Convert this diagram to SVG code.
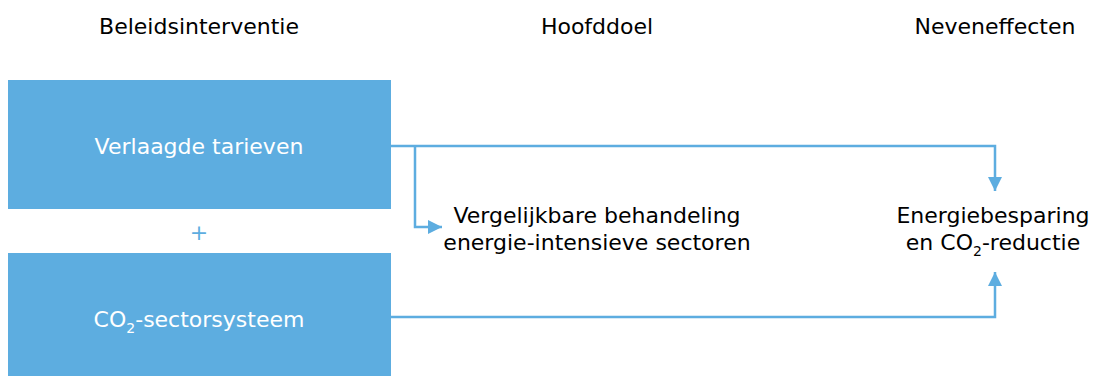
<svg xmlns="http://www.w3.org/2000/svg" width="1095" height="376" viewBox="0 0 1095 376">
<style>
text{font-family:"DejaVu Sans",Verdana,sans-serif;font-size:22px;text-anchor:middle;fill:#000}
.box{fill:#5dade0}
.wt{fill:#fff}
.ln{fill:none;stroke:#5dade0;stroke-width:2.5}
</style>
<defs>
<marker id="ah" viewBox="0 0 14 14" refX="14" refY="7" markerWidth="14" markerHeight="14" markerUnits="userSpaceOnUse" orient="auto">
<path d="M0,0 L14,7 L0,14 Z" fill="#5dade0"/>
</marker>
</defs>
<rect width="1095" height="376" fill="#fff"/>
<g id="headers">
<text x="199" y="34">Beleidsinterventie</text>
<text x="597" y="34">Hoofddoel</text>
<text x="995" y="34">Neveneffecten</text>
</g>
<g id="connectors">
<path class="ln" d="M391,146 H995 V191" marker-end="url(#ah)"/>
<path class="ln" d="M415,146 V227 H442" marker-end="url(#ah)"/>
<path class="ln" d="M391,317 H995 V272" marker-end="url(#ah)"/>
</g>
<g id="node-tarieven">
<rect class="box" x="8" y="80" width="383" height="129"/>
<text class="wt" x="199" y="154">Verlaagde tarieven</text>
</g>
<g id="plus">
<text x="199" y="240" style="fill:#5dade0">+</text>
</g>
<g id="node-co2">
<rect class="box" x="8" y="253" width="383" height="123"/>
<text class="wt" x="199" y="327">CO<tspan font-size="14" dy="6">2</tspan><tspan dy="-6">-sectorsysteem</tspan></text>
</g>
<g id="node-hoofddoel">
<text x="597" y="223">Vergelijkbare behandeling</text>
<text x="597" y="250">energie-intensieve sectoren</text>
</g>
<g id="node-neven">
<text x="993" y="223">Energiebesparing</text>
<text x="993" y="250">en CO<tspan font-size="14" dy="6">2</tspan><tspan dy="-6">-reductie</tspan></text>
</g>
</svg>
